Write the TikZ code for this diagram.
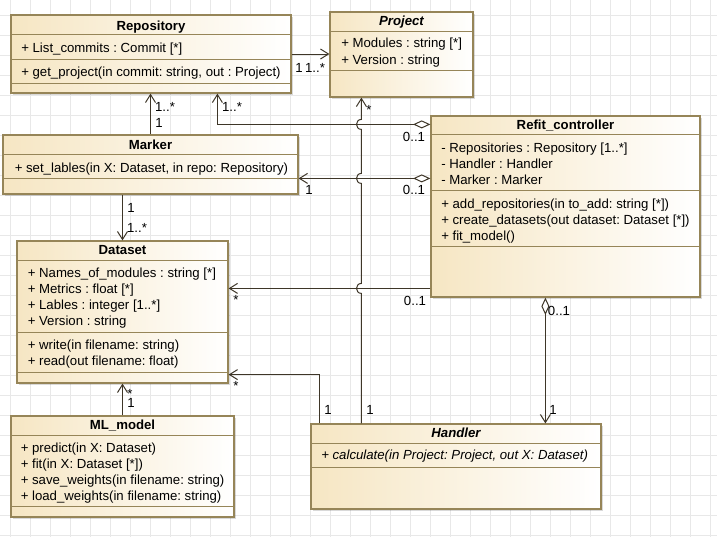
\documentclass[tikz,border=0pt]{standalone}
\usepackage{fontspec}
\setmainfont{Liberation Sans}
\usetikzlibrary{calc,fit,arrows.meta,shadows}
\definecolor{umlborder}{RGB}{150,133,88}
\definecolor{umlfill}{RGB}{246,230,195}
\definecolor{umlline}{RGB}{62,54,40}
\definecolor{gridgray}{RGB}{232,232,232}
\frenchspacing

\begin{document}
\begin{tikzpicture}[x=0.75pt, y=-0.75pt,
  every node/.style={font=\fontsize{9.9}{12}\selectfont, inner sep=0pt},
  umlbox/.style={draw=umlborder, line width=0.9pt, left color=umlfill,
    right color=white, drop shadow={shadow xshift=1.3pt,
    shadow yshift=-1.3pt, fill=black, opacity=0.15}},
  sep/.style={draw=umlborder, line width=0.8pt},
  title/.style={anchor=base, font=\fontsize{9.9}{12}\selectfont\bfseries},
  member/.style={anchor=base west},
  mult/.style={anchor=base},
  gridline/.style={draw=gridgray, line width=0.6pt},
  assoc/.style={draw=umlline, line width=0.75pt,
    -{Straight Barb[length=6pt,width=7.5pt]}},
  aggr/.style={assoc, {Diamond[open,length=13pt,width=6pt]}-{Straight Barb[length=6pt,width=7.5pt]}},
]
  \useasboundingbox (0,0) rectangle (717,537);
  \fill[white] (0,0) rectangle (717,537);

  % Background grid
  \foreach \gx in {10,30,...,710}
    \draw[gridline] (\gx,0) -- (\gx,537);
  \foreach \gy in {15,35,...,535}
    \draw[gridline] (0,\gy) -- (717,\gy);

  % Repository
  \node[umlbox, fit={(11,15) (291,93)}] (repo) {};
  \draw[sep] (repo.north west) ++(0,20) -- ++(280,0);
  \draw[sep] (repo.north west) ++(0,45) -- ++(280,0);
  \draw[sep] (repo.north west) ++(0,69) -- ++(280,0);
  \node[title] (repoT) at (151,30) {Repository};
  \node[member] (repoA1) at (21,52.5) {+ List\_commits : Commit [*]};
  \node[member] (repoO1) at (21,76.5) {+ get\_project(in commit: string, out : Project)};

  % Project
  \node[umlbox, fit={(330,12) (473,97)}] (proj) {};
  \draw[sep] (proj.north west) ++(0,20) -- ++(143,0);
  \draw[sep] (proj.north west) ++(0,59) -- ++(143,0);
  \node[title, font=\fontsize{9.9}{12}\selectfont\bfseries\itshape] (projT) at (401.5,25.5) {Project};
  \node[member] (projA1) at (341,47.5) {+ Modules : string [*]};
  \node[member] (projA2) at (341,64.5) {+ Version : string};

  % Refit_controller
  \node[umlbox, fit={(431,116) (700,297)}] (refit) {};
  \draw[sep] (refit.north west) ++(0,19) -- ++(269,0);
  \draw[sep] (refit.north west) ++(0,75) -- ++(269,0);
  \draw[sep] (refit.north west) ++(0,131) -- ++(269,0);
  \node[title] (refitT) at (565.5,129.5) {Refit\_controller};
  \node[member] (refitA1) at (441,152.5) {- Repositories : Repository [1..*]};
  \node[member] (refitA2) at (441,168.5) {- Handler : Handler};
  \node[member] (refitA3) at (441,184.5) {- Marker : Marker};
  \node[member] (refitO1) at (441,208.5) {+ add\_repositories(in to\_add: string [*])};
  \node[member] (refitO2) at (441,224.5) {+ create\_datasets(out dataset: Dataset [*])};
  \node[member] (refitO3) at (441,240.5) {+ fit\_model()};

  % Marker
  \node[umlbox, fit={(3,135) (298,194)}] (marker) {};
  \draw[sep] (marker.north west) ++(0,20) -- ++(295,0);
  \draw[sep] (marker.north west) ++(0,44) -- ++(295,0);
  \node[title] (markerT) at (150.5,149.5) {Marker};
  \node[member] (markerO1) at (14.5,172.5) {+ set\_lables(in X: Dataset, in repo: Repository)};

  % Dataset
  \node[umlbox, fit={(17,241) (228,383)}] (dataset) {};
  \draw[sep] (dataset.north west) ++(0,20) -- ++(211,0);
  \draw[sep] (dataset.north west) ++(0,92) -- ++(211,0);
  \draw[sep] (dataset.north west) ++(0,132) -- ++(211,0);
  \node[title] (datasetT) at (122.5,254.5) {Dataset};
  \node[member] (datasetA1) at (27.5,277.5) {+ Names\_of\_modules : string [*]};
  \node[member] (datasetA2) at (27.5,293.5) {+ Metrics : float [*]};
  \node[member] (datasetA3) at (27.5,309.5) {+ Lables : integer [1..*]};
  \node[member] (datasetA4) at (27.5,325.5) {+ Version : string};
  \node[member] (datasetO1) at (27.5,349) {+ write(in filename: string)};
  \node[member] (datasetO2) at (27.5,365) {+ read(out filename: float)};

  % ML_model
  \node[umlbox, fit={(11,416) (234,517)}] (ml) {};
  \draw[sep] (ml.north west) ++(0,20) -- ++(223,0);
  \draw[sep] (ml.north west) ++(0,91) -- ++(223,0);
  \node[title] (mlT) at (122.5,429) {ML\_model};
  \node[member] (mlO1) at (20.5,452.5) {+ predict(in X: Dataset)};
  \node[member] (mlO2) at (20.5,468.5) {+ fit(in X: Dataset [*])};
  \node[member] (mlO3) at (20.5,484.5) {+ save\_weights(in filename: string)};
  \node[member] (mlO4) at (20.5,500.5) {+ load\_weights(in filename: string)};

  % Handler
  \node[umlbox, fit={(311,424) (601,509)}] (handler) {};
  \draw[sep] (handler.north west) ++(0,20) -- ++(290,0);
  \draw[sep] (handler.north west) ++(0,44) -- ++(290,0);
  \node[title, font=\fontsize{9.9}{12}\selectfont\bfseries\itshape] (handlerT) at (456,437.5) {Handler};
  \node[member, font=\fontsize{9.9}{12}\selectfont\itshape] (handlerO1) at (321,459.7)
    {+ calculate(in Project: Project, out X: Dataset)};

  % Connection points
  \coordinate (refitR) at ($(refit.north west)+(0,9)$);
  \coordinate (refitM) at ($(refit.north west)+(0,63)$);
  \coordinate (refitD) at ($(refit.north west)+(0,173)$);
  \coordinate (refitH) at ($(refit.south west)+(115,0)$);
  \coordinate (hdD) at ($(handler.north west)+(9,0)$);
  \coordinate (hdP) at ($(handler.north west)+(51,0)$);

  % Associations
  \draw[assoc] (repo.east) -- (repo.east -| proj.west);
  \draw[assoc] (marker.north) -- (marker.north |- repo.south);
  \draw[aggr] (refitR) -| ($(repo.south west)+(207,0)$);
  \draw[aggr] (refitM) -- (refitM -| marker.east);
  \draw[assoc] (refitD) -- (refitD -| dataset.east);
  \draw[assoc] (dataset.north |- marker.south) -- (dataset.north);
  \draw[assoc] (ml.north) -- (ml.north |- dataset.south);
  \draw[assoc] (hdD) |- ($(dataset.south east)+(0,-9)$);
  \draw[aggr] (refitH) -- (refitH |- handler.north);
  \draw[assoc] (hdP) -- ($(hdP |- refitD)+(0,5)$)
    .. controls +(-6.5,0) and +(-6.5,0) .. ($(hdP |- refitD)+(0,-5)$)
    -- ($(hdP |- refitM)+(0,5)$)
    .. controls +(-6.5,0) and +(-6.5,0) .. ($(hdP |- refitM)+(0,-5)$)
    -- ($(hdP |- refitR)+(0,5)$)
    .. controls +(-6.5,0) and +(-6.5,0) .. ($(hdP |- refitR)+(0,-5)$)
    -- (hdP |- proj.south);

  % Multiplicities
  \node[mult] (m1) at (299,72.5) {1};
  \node[mult] (m2) at (315,72.5) {1..*};
  \node[mult] (m3) at (165,111.5) {1..*};
  \node[mult] (m4) at (159,127.5) {1};
  \node[mult] (m5) at (232,111.5) {1..*};
  \node[mult] (m6) at (414,141.5) {0..1};
  \node[mult] (m7) at (309,194.5) {1};
  \node[mult] (m8) at (414,194.5) {0..1};
  \node[mult] (m9) at (236,304.5) {*};
  \node[mult] (m10) at (415,305) {0..1};
  \node[mult] (m11) at (131,212.5) {1};
  \node[mult] (m12) at (137,232.5) {1..*};
  \node[mult] (m13) at (130,398) {*};
  \node[mult] (m14) at (131,407.5) {1};
  \node[mult] (m15) at (328,414.5) {1};
  \node[mult] (m16) at (236,390.5) {*};
  \node[mult] (m17) at (370,414.5) {1};
  \node[mult] (m18) at (369,114.5) {*};
  \node[mult] (m19) at (559,315.5) {0..1};
  \node[mult] (m20) at (553,414.5) {1};
\end{tikzpicture}
\end{document}
